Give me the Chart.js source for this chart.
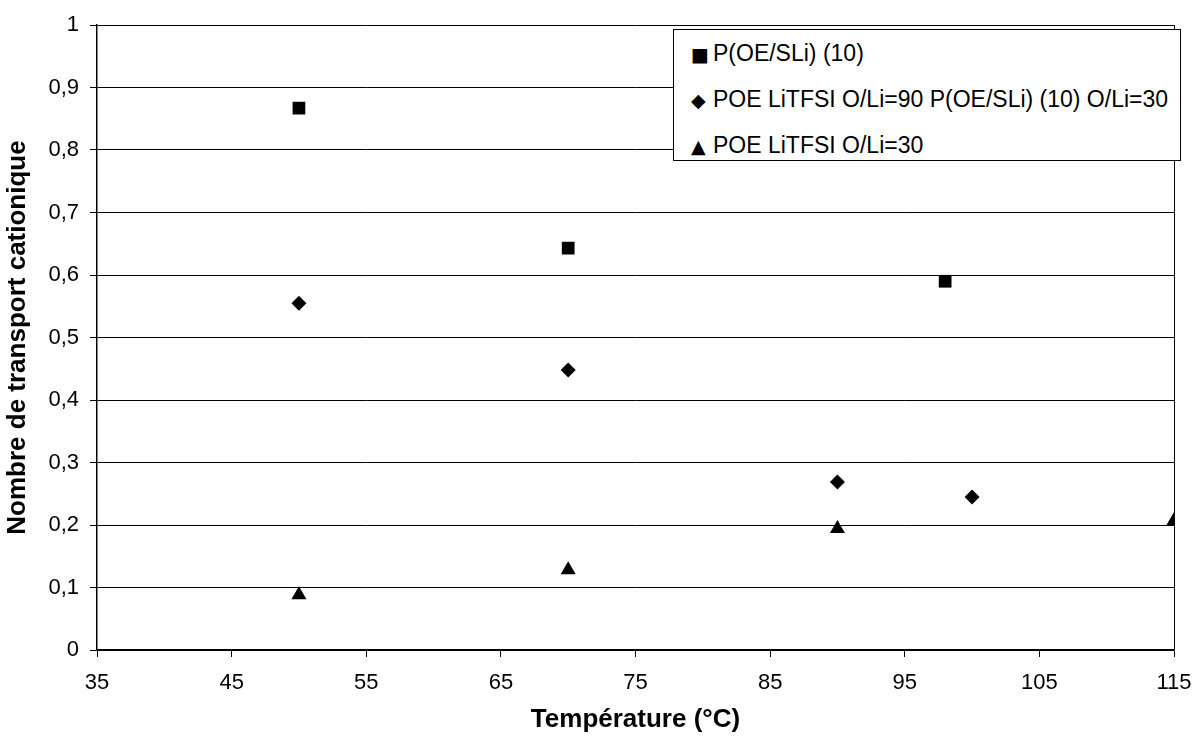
<!DOCTYPE html>
<html>
<head>
<meta charset="utf-8">
<script src="https://cdn.jsdelivr.net/npm/chart.js@4.4.0/dist/chart.umd.min.js"></script>
<style>
    html, body { margin: 0; padding: 0; background: #fff; }
    #wrap { position: relative; width: 1195px; height: 736px; }
    #legend {
        position: absolute; left: 673px; top: 29px; height: 130px;
        background: #fff; border: 1px solid #000;
        font: 23px "Liberation Sans", Arial, sans-serif; color: #000;
        padding: 0 12px 0 17px;
    }
    #legend .row { height: 46px; line-height: 46px; white-space: nowrap; }
    #legend .mk { display: inline-block; width: 22px; font-family: "DejaVu Sans", sans-serif; font-size: 19px; }
</style>
</head>
<body>
<div id="wrap">
    <canvas id="chart" width="1195" height="736"></canvas>
    <div id="legend"></div>
</div>
<script>
// Temperatures (°C) and cation transport numbers
const seriesNames = [
    'P(OE/SLi) (10)',
    'POE LiTFSI O/Li=90 P(OE/SLi) (10) O/Li=30',
    'POE LiTFSI O/Li=30'
];
const squareTemps = [50, 70, 98];
const squareValues = [0.867, 0.643, 0.59];
const diamondTemps = [50, 70, 90, 100];
const diamondValues = [0.555, 0.448, 0.269, 0.245];
const triangleTemps = [50, 70, 90, 115];
const triangleValues = [0.088, 0.128, 0.194, 0.207];

const FONT = '"Liberation Sans", Arial, sans-serif';

function toPoints(xs, ys) {
    return xs.map((x, i) => ({ x: x, y: ys[i] }));
}

function frLabel(v) {
    return String(Number(v.toFixed(1))).replace('.', ',');
}

// right edge of the plot area (Excel style frame)
const frameRight = {
    id: 'frameRight',
    afterDraw(chart) {
        const a = chart.chartArea;
        const ctx = chart.ctx;
        ctx.save();
        ctx.strokeStyle = '#000';
        ctx.lineWidth = 1;
        ctx.beginPath();
        ctx.moveTo(Math.round(a.right) + 0.5, a.top);
        ctx.lineTo(Math.round(a.right) + 0.5, a.bottom);
        ctx.stroke();
        ctx.restore();
    }
};

const markers = [
    { style: 'rect', radius: 9 },
    { style: 'rectRot', radius: 7.5 },
    { style: 'triangle', radius: 8.7 }
];

const chart = new Chart(document.getElementById('chart'), {
    type: 'scatter',
    data: {
        datasets: [
            { label: seriesNames[0], data: toPoints(squareTemps, squareValues) },
            { label: seriesNames[1], data: toPoints(diamondTemps, diamondValues) },
            { label: seriesNames[2], data: toPoints(triangleTemps, triangleValues) }
        ].map((ds, i) => Object.assign(ds, {
            pointStyle: markers[i].style,
            pointRadius: markers[i].radius,
            pointHoverRadius: markers[i].radius,
            backgroundColor: '#000',
            borderColor: '#000',
            borderWidth: 0,
            showLine: false
        }))
    },
    options: {
        responsive: false,
        animation: false,
        layout: { padding: { left: 0, right: 21, top: 25, bottom: 0 } },
        plugins: {
            legend: { display: false },
            tooltip: { enabled: false }
        },
        scales: {
            x: {
                type: 'linear',
                min: 35,
                max: 115,
                afterFit: (s) => {
                    s.height = 86;
                    s.paddingLeft = 0;
                    s.paddingRight = 0;
                },
                ticks: {
                    stepSize: 10,
                    color: '#000',
                    padding: 13,
                    maxRotation: 0,
                    font: { family: FONT, size: 22 }
                },
                grid: {
                    drawOnChartArea: false,
                    drawTicks: true,
                    tickLength: 7,
                    color: '#000',
                    lineWidth: 1
                },
                border: { display: true, color: '#000', width: 1.5 },
                title: {
                    display: true,
                    text: 'Température (°C)',
                    color: '#000',
                    padding: 1,
                    font: { family: FONT, size: 26, weight: 'bold' }
                }
            },
            y: {
                min: 0,
                max: 1,
                afterFit: (s) => { s.width = 97; },
                ticks: {
                    stepSize: 0.1,
                    color: '#000',
                    padding: 11,
                    font: { family: FONT, size: 22 },
                    callback: (v) => frLabel(v)
                },
                grid: {
                    drawOnChartArea: true,
                    drawTicks: true,
                    tickLength: 7,
                    color: '#000',
                    lineWidth: 1
                },
                border: { display: true, color: '#000', width: 1.5 },
                title: {
                    display: true,
                    text: 'Nombre de transport cationique',
                    color: '#000',
                    padding: 2,
                    font: { family: FONT, size: 26, weight: 'bold' }
                }
            }
        }
    },
    plugins: [frameRight]
});

// legend box drawn as html text, built from the dataset labels
const glyphs = ['\u25A0', '\u25C6', '\u25B2'];
document.getElementById('legend').innerHTML = chart.data.datasets
    .map((ds, i) => '<div class="row"><span class="mk">' + glyphs[i] + '</span>' + ds.label + '</div>')
    .join('');
</script>
</body>
</html>
